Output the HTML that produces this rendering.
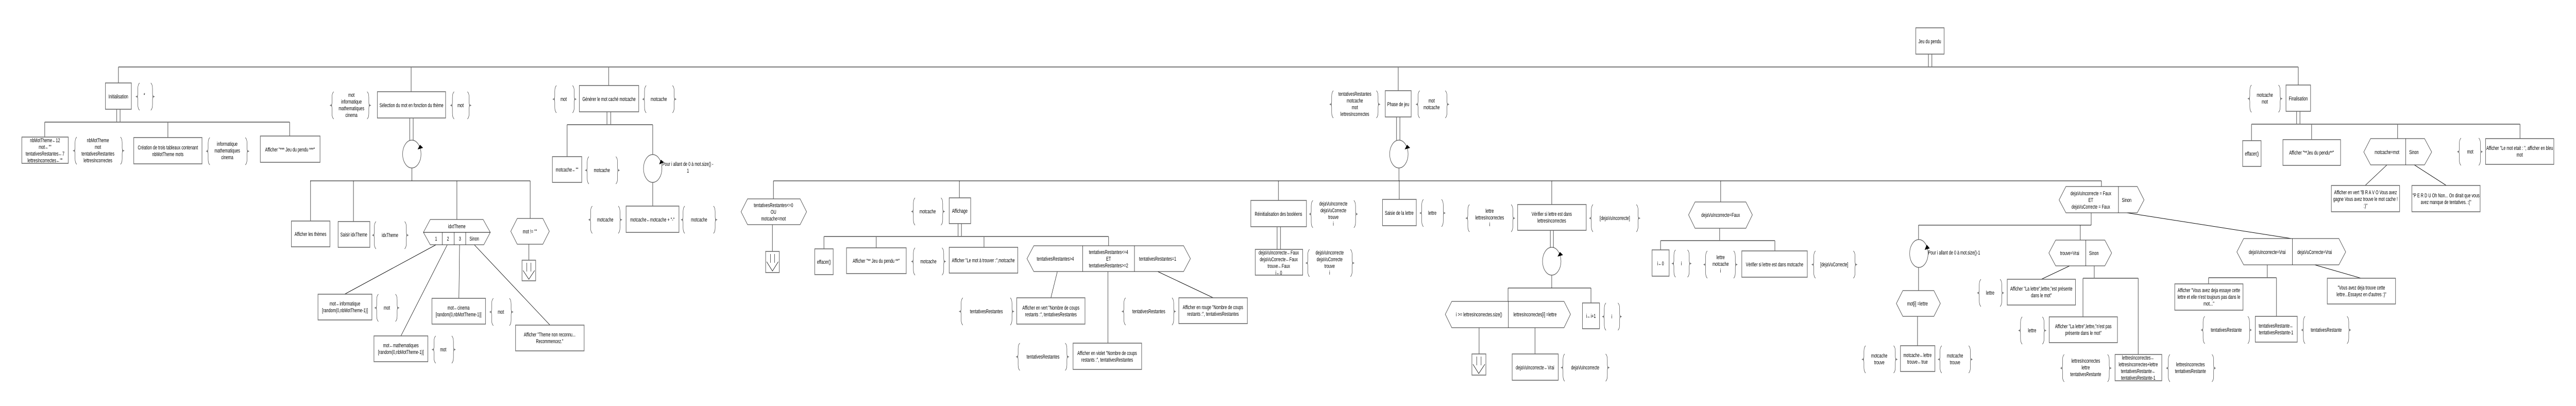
<!DOCTYPE html>
<html><head><meta charset="utf-8"><style>
html,body{margin:0;padding:0;background:#fff;width:100%;height:100%;overflow:hidden;}
svg{display:block;position:fixed;left:0;top:0;width:100vw;height:100vh;}
text{font-family:"Liberation Sans","DejaVu Sans",sans-serif;font-size:11px;fill:#000;text-anchor:middle;}
.b{fill:#fff;stroke:#6a6a6a;stroke-width:1.6;}
.g{stroke:#7a7a7a;stroke-width:2;fill:none;}
.k{stroke:#000;stroke-width:1;fill:none;}
.h{fill:#fff;stroke:#555;stroke-width:1.3;}
</style></head><body>
<svg viewBox="0 0 7550 788" preserveAspectRatio="none" xmlns="http://www.w3.org/2000/svg">
<defs>
<symbol id="lb" overflow="visible"><path d="M9,0 Q4,3 4,11 L4,21 Q4,26 0,26.5 Q4,27 4,32 L4,42 Q4,50 9,53" fill="none" stroke="#333" stroke-width="1"/><path d="M-3,26.5 L4,24 L4,29Z" fill="#777"/></symbol>
<symbol id="rb" overflow="visible"><path d="M0,0 Q5,3 5,11 L5,21 Q5,26 9,26.5 Q5,27 5,32 L5,42 Q5,50 0,53" fill="none" stroke="#333" stroke-width="1"/><path d="M12,26.5 L5,24 L5,29Z" fill="#777"/></symbol>
</defs>

<g class="g">
<line x1="347" y1="130" x2="6736" y2="130"/>
<line x1="5652" y1="105" x2="5652" y2="130"/><line x1="5662" y1="105" x2="5662" y2="130"/>
<line x1="347" y1="130" x2="347" y2="161"/><line x1="1205" y1="130" x2="1205" y2="178"/>
<line x1="1784" y1="130" x2="1784" y2="166"/><line x1="4098" y1="130" x2="4098" y2="176"/>
<line x1="6736" y1="130" x2="6736" y2="165"/>
<line x1="342" y1="212" x2="342" y2="237"/><line x1="352" y1="212" x2="352" y2="237"/>
<line x1="131" y1="237" x2="849" y2="237"/>
<line x1="131" y1="237" x2="131" y2="266"/><line x1="492" y1="237" x2="492" y2="267"/><line x1="849" y1="237" x2="849" y2="264"/>
<line x1="1201" y1="229" x2="1201" y2="272"/><line x1="1211" y1="229" x2="1211" y2="272"/>
<line x1="910" y1="351" x2="910" y2="429"/><line x1="1036" y1="351" x2="1036" y2="430"/>
<line x1="1339" y1="351" x2="1339" y2="426"/><line x1="1554" y1="351" x2="1554" y2="424"/>
<line x1="1550" y1="474" x2="1550" y2="505"/>
<line x1="1779" y1="217" x2="1779" y2="242"/><line x1="1790" y1="217" x2="1790" y2="242"/>
<line x1="1662" y1="242" x2="1913" y2="242"/>
<line x1="1662" y1="242" x2="1662" y2="304"/><line x1="1913" y1="242" x2="1913" y2="300"/>
<line x1="1913" y1="354" x2="1913" y2="400"/>
<line x1="4093" y1="227" x2="4093" y2="272"/><line x1="4103" y1="227" x2="4103" y2="272"/>
<line x1="2267" y1="351" x2="2267" y2="386"/><line x1="2812" y1="351" x2="2812" y2="384"/>
<line x1="3747" y1="351" x2="3747" y2="389"/><line x1="4101" y1="351" x2="4101" y2="387"/>
<line x1="4548" y1="351" x2="4548" y2="397"/><line x1="5043" y1="351" x2="5043" y2="392"/>
<line x1="6159" y1="351" x2="6159" y2="362"/>
<line x1="2264" y1="436" x2="2264" y2="488"/>
<line x1="2808" y1="434" x2="2808" y2="459"/><line x1="2818" y1="434" x2="2818" y2="459"/>
<line x1="2415" y1="459" x2="3249" y2="459"/>
<line x1="2415" y1="459" x2="2415" y2="483"/><line x1="2568" y1="459" x2="2568" y2="481"/>
<line x1="2884" y1="459" x2="2884" y2="480"/><line x1="3249" y1="459" x2="3249" y2="477"/>
<line x1="3743" y1="440" x2="3743" y2="484"/><line x1="3753" y1="440" x2="3753" y2="484"/>
<line x1="4544" y1="447" x2="4544" y2="480"/><line x1="4553" y1="447" x2="4553" y2="480"/>
<line x1="4420" y1="559" x2="4420" y2="585"/><line x1="4663" y1="559" x2="4663" y2="588"/>
<line x1="4335" y1="636" x2="4335" y2="687"/><line x1="4499" y1="636" x2="4499" y2="687"/>
<line x1="5040" y1="443" x2="5040" y2="467"/>
<line x1="4867" y1="467" x2="5202" y2="467"/>
<line x1="4867" y1="467" x2="4867" y2="485"/><line x1="5202" y1="467" x2="5202" y2="487"/>
<line x1="5623" y1="437" x2="5623" y2="465"/><line x1="6097" y1="437" x2="6097" y2="466"/>
<line x1="5623" y1="519" x2="5623" y2="564"/><line x1="5620" y1="614" x2="5620" y2="671"/>
<line x1="6138" y1="516" x2="6138" y2="540"/>
<line x1="6105" y1="540" x2="6267" y2="540"/>
<line x1="6105" y1="540" x2="6105" y2="615"/><line x1="6267" y1="540" x2="6267" y2="688"/>
<line x1="6645" y1="514" x2="6645" y2="539"/>
<line x1="6473" y1="539" x2="6672" y2="539"/>
<line x1="6473" y1="539" x2="6473" y2="551"/><line x1="6672" y1="539" x2="6672" y2="614"/>
<line x1="6731" y1="216" x2="6731" y2="241"/><line x1="6741" y1="216" x2="6741" y2="241"/>
<line x1="6599" y1="241" x2="7386" y2="241"/>
<line x1="6599" y1="241" x2="6599" y2="273"/><line x1="6775" y1="241" x2="6775" y2="271"/>
<line x1="7027" y1="241" x2="7027" y2="269"/><line x1="7386" y1="241" x2="7386" y2="269"/>
<line x1="6129" y1="413" x2="6129" y2="437"/>
</g>
<g class="k">
<line x1="1207" y1="326" x2="1207" y2="351"/>
<line x1="909" y1="351" x2="1554" y2="351"/>
<line x1="1278" y1="475" x2="1010" y2="571"/>
<line x1="1311" y1="475" x2="1175" y2="652"/>
<line x1="1347" y1="475" x2="1345" y2="579"/>
<line x1="1390" y1="475" x2="1612" y2="631"/>
<line x1="4100" y1="326" x2="4100" y2="351"/>
<line x1="2267" y1="351" x2="6159" y2="351"/>
<line x1="3099" y1="527" x2="3080" y2="578"/>
<line x1="3247" y1="527" x2="3247" y2="666"/>
<line x1="3393" y1="527" x2="3556" y2="578"/>
<line x1="4548" y1="534" x2="4548" y2="559"/>
<line x1="4420" y1="559" x2="4663" y2="559"/>
<line x1="5623" y1="437" x2="6129" y2="437"/>
<line x1="6066" y1="516" x2="5983" y2="542"/>
<line x1="6233" y1="413" x2="6716" y2="463"/>
<line x1="6784" y1="514" x2="6920" y2="540"/>
<line x1="6996" y1="320" x2="6932" y2="360"/>
<line x1="7076" y1="320" x2="7170" y2="360"/>
</g>

<g>
<circle cx="1207" cy="299" r="27" class="h"/><path d="M1224,290 L1231,281 L1240,287Z" fill="#000"/>
<circle cx="1913" cy="327" r="27" class="h"/><path d="M1932,319 L1937,310 L1946,315Z" fill="#000"/>
<circle cx="4100" cy="299" r="27" class="h"/><path d="M4117,290 L4124,281 L4133,287Z" fill="#000"/>
<circle cx="4548" cy="507" r="27" class="h"/><path d="M4565,498 L4572,489 L4581,495Z" fill="#000"/>
<circle cx="5624" cy="492" r="27" class="h"/><path d="M5641,485 L5647,475 L5656,482Z" fill="#000"/>
</g>
<text x="2016" y="322">Pour i allant de 0 à mot.size() -</text>
<text x="2016" y="335">1</text>
<text x="5651" y="494" style="text-anchor:start">Pour i allant de 0 à mot.size()-1</text>

<g>
<rect class="b" x="5615" y="54" width="83" height="51"/><text x="5656" y="84">Jeu du pendu</text>
<rect class="b" x="309" y="161" width="76" height="51"/><text x="347" y="191">Initialisation</text>
<rect class="b" x="64" y="266" width="136" height="51"/>
<text x="132" y="276">nbMotTheme←12</text><text x="132" y="289">mot←""</text><text x="132" y="302">tentativesRestantes←7</text><text x="132" y="315">lettresIncorrectes←""</text>
<rect class="b" x="392" y="267" width="200" height="51"/><text x="492" y="290">Création de trois tableaux contenant</text><text x="492" y="303">nbMotTheme mots</text>
<rect class="b" x="763" y="264" width="175" height="51"/><text x="850" y="294">Afficher "*** Jeu du pendu ***"</text>
<rect class="b" x="1106" y="178" width="200" height="51"/><text x="1206" y="208">Sélection du mot en fonction du thème</text>
<rect class="b" x="854" y="429" width="113" height="50"/><text x="910" y="458">Afficher les thèmes</text>
<rect class="b" x="991" y="430" width="93" height="50"/><text x="1037" y="459">Saisir idxTheme</text>
<rect class="b" x="932" y="571" width="158" height="50"/><text x="1011" y="593">mot←informatique</text><text x="1011" y="606">[random(0,nbMotTheme-1)]</text>
<rect class="b" x="1096" y="652" width="158" height="50"/><text x="1175" y="674">mot←mathematiques</text><text x="1175" y="687">[random(0,nbMotTheme-1)]</text>
<rect class="b" x="1266" y="579" width="157" height="50"/><text x="1344" y="601">mot←cinema</text><text x="1344" y="614">[random(0,nbMotTheme-1)]</text>
<rect class="b" x="1511" y="631" width="201" height="50"/><text x="1611" y="653">Afficher "Theme non reconnu...</text><text x="1611" y="666">Recommencez."</text>
<rect class="b" x="1698" y="166" width="174" height="51"/><text x="1785" y="196">Générer le mot caché motcache</text>
<rect class="b" x="1619" y="304" width="86" height="50"/><text x="1662" y="333">motcache←""</text>
<rect class="b" x="1835" y="400" width="155" height="51"/><text x="1912" y="430">motcache←motcache + "-"</text>
<rect class="b" x="2782" y="384" width="63" height="50"/><text x="2813" y="413">Affichage</text>
<rect class="b" x="2388" y="483" width="54" height="50"/><text x="2415" y="512">effacer()</text>
<rect class="b" x="2481" y="481" width="175" height="50"/><text x="2568" y="510">Afficher "** Jeu du pendu **"</text>
<rect class="b" x="2782" y="480" width="201" height="50"/><text x="2882" y="509">Afficher "Le mot à trouver :",motcache</text>
<rect class="b" x="2980" y="578" width="200" height="51"/><text x="3080" y="601">Afficher en vert "Nombre de coups</text><text x="3080" y="614">restants :", tentativesRestantes</text>
<rect class="b" x="3145" y="666" width="201" height="51"/><text x="3245" y="689">Afficher en violet "Nombre de coups</text><text x="3245" y="702">restants :", tentativesRestantes</text>
<rect class="b" x="3455" y="578" width="201" height="50"/><text x="3555" y="600">Afficher en rouge "Nombre de coups</text><text x="3555" y="613">restants :", tentativesRestantes</text>
<rect class="b" x="3666" y="389" width="163" height="51"/><text x="3747" y="419">Réinitialisation des booléens</text>
<rect class="b" x="3679" y="484" width="139" height="50"/>
<text x="3748" y="494">dejaVuIncorrecte←Faux</text><text x="3748" y="507">dejaVuCorrecte←Faux</text><text x="3748" y="520">trouve←Faux</text><text x="3748" y="533">i←0</text>
<rect class="b" x="4060" y="176" width="76" height="51"/><text x="4098" y="206">Phase de jeu</text>
<rect class="b" x="4052" y="387" width="99" height="51"/><text x="4101" y="417">Saisie de la lettre</text>
<rect class="b" x="4448" y="397" width="201" height="50"/><text x="4548" y="419">Vérifier si lettre est dans</text><text x="4548" y="432">lettresIncorrectes</text>
<rect class="b" x="4432" y="687" width="135" height="51"/><text x="4499" y="717">dejaVuIncorrecte←Vrai</text>
<rect class="b" x="4638" y="588" width="50" height="50"/><text x="4663" y="617">i←i+1</text>
<rect class="b" x="4842" y="485" width="50" height="51"/><text x="4867" y="515">i←0</text>
<rect class="b" x="5105" y="487" width="192" height="51"/><text x="5201" y="517">Vérifier si lettre est dans motcache</text>
<rect class="b" x="5570" y="671" width="101" height="50"/><text x="5620" y="693">motcache←lettre</text><text x="5620" y="706">trouve←true</text>
<rect class="b" x="5883" y="542" width="200" height="50"/><text x="5983" y="564">Afficher "La lettre",lettre,"est présente</text><text x="5983" y="577">dans le mot"</text>
<rect class="b" x="6006" y="615" width="200" height="50"/><text x="6106" y="637">Afficher "La lettre",lettre,"n'est pas</text><text x="6106" y="650">présente dans le mot"</text>
<rect class="b" x="6199" y="688" width="137" height="51"/>
<text x="6267" y="698">lettresIncorrectes←</text><text x="6267" y="711">lettresIncorrectes+lettre</text><text x="6267" y="724">tentativesRestante←</text><text x="6267" y="737">tentativesRestante-1</text>
<rect class="b" x="6374" y="551" width="200" height="51"/><text x="6474" y="567">Afficher "Vous avez deja essaye cette</text><text x="6474" y="580">lettre et elle n'est toujours pas dans le</text><text x="6474" y="593">mot..."</text>
<rect class="b" x="6610" y="614" width="123" height="50"/><text x="6671" y="636">tentativesRestante←</text><text x="6671" y="649">tentativesRestante-1</text>
<rect class="b" x="6821" y="540" width="200" height="50"/><text x="6921" y="562">"Vous avez deja trouve cette</text><text x="6921" y="575">lettre...Essayez en d'autres :)"</text>
<rect class="b" x="6700" y="165" width="72" height="51"/><text x="6736" y="195">Finalisation</text>
<rect class="b" x="6573" y="273" width="54" height="50"/><text x="6600" y="302">effacer()</text>
<rect class="b" x="6691" y="271" width="169" height="50"/><text x="6775" y="300">Afficher "**Jeu du pendu**"</text>
<rect class="b" x="6833" y="360" width="200" height="51"/><text x="6933" y="377">Afficher en vert "B R A V O Vous avez</text><text x="6933" y="390">gagne Vous avez trouve le mot cache !</text><text x="6933" y="403">:)"</text>
<rect class="b" x="7069" y="360" width="200" height="51"/><text x="7169" y="383">"P E R D U Oh Non... On dirait que vous</text><text x="7169" y="396">avez manque de tentatives. :("</text>
<rect class="b" x="7285" y="269" width="200" height="50"/><text x="7385" y="291">Afficher "Le mot etait : ", afficher en bleu</text><text x="7385" y="304">mot</text>
</g>

<g>
<rect class="b" x="1530" y="505" width="40" height="40"/><path class="k" d="M1544,510 V527 M1556,510 V527 M1533,525 L1550,542 L1567,525"/>
<rect class="b" x="2244" y="488" width="40" height="41"/><path class="k" d="M2258,493 V510 M2270,493 V510 M2247,508 L2264,526 L2281,508"/>
<rect class="b" x="4314" y="687" width="41" height="41"/><path class="k" d="M4328,692 V709 M4341,692 V709 M4317,707 L4334,725 L4352,707"/>
</g>

<g>
<polygon class="h" points="1241,451 1261,426 1416,426 1437,451 1418,475 1261,475"/>
<path class="k" d="M1241,451 H1437 M1296,451 V475 M1331,451 V475 M1365,451 V475"/>
<text x="1339" y="443">idxtTheme</text><text x="1278" y="467">1</text><text x="1313" y="467">2</text><text x="1348" y="467">3</text><text x="1390" y="467">Sinon</text>
<polygon class="h" points="1497,449 1516,424 1591,424 1610,449 1591,474 1516,474"/><text x="1553" y="453">mot != ""</text>
<polygon class="h" points="2172,411 2191,386 2345,386 2364,411 2345,436 2191,436"/>
<text x="2267" y="402">tentativesRestantes&lt;=0</text><text x="2267" y="415">OU</text><text x="2267" y="428">motcache=mot</text>
<polygon class="h" points="3010,502 3030,477 3469,477 3489,502 3469,527 3030,527"/>
<path class="k" d="M3173,477 V527 M3325,477 V527"/>
<text x="3093" y="506">tentativesRestantes&gt;4</text>
<text x="3249" y="493">tentativesRestantes&lt;=4</text><text x="3249" y="506">ET</text><text x="3249" y="519">tentativesRestantes&gt;=2</text>
<text x="3393" y="506">tentativesRestantes=1</text>
<polygon class="h" points="4236,610 4255,585 4584,585 4603,610 4584,636 4255,636"/>
<path class="k" d="M4421,585 V636"/>
<text x="4335" y="614">i &gt;= lettresIncorrectes.size()</text><text x="4499" y="614">lettresIncorrectes[i] =lettre</text>
<polygon class="h" points="4949,417 4968,392 5117,392 5136,417 5117,443 4968,443"/><text x="5043" y="421">dejaVuIncorrecte=Faux</text>
<polygon class="h" points="5558,589 5577,564 5668,564 5687,589 5668,614 5577,614"/><text x="5620" y="593">mot[i] =lettre</text>
<polygon class="h" points="6005,491 6025,466 6169,466 6189,491 6169,516 6025,516"/>
<path class="k" d="M6113,466 V516"/><text x="6066" y="495">trouve=Vrai</text><text x="6137" y="495">Sinon</text>
<polygon class="h" points="6035,388 6055,362 6264,362 6284,388 6264,413 6055,413"/>
<path class="k" d="M6209,362 V413"/>
<text x="6128" y="379">dejaVuIncorrecte = Faux</text><text x="6128" y="392">ET</text><text x="6128" y="405">dejaVuCorrecte = Faux</text><text x="6233" y="392">Sinon</text>
<polygon class="h" points="6556,489 6576,463 6855,463 6875,489 6855,514 6576,514"/>
<path class="k" d="M6719,463 V514"/><text x="6645" y="493">dejaVuIncorrecte=Vrai</text><text x="6784" y="493">dejaVuCorrecte=Vrai</text>
<polygon class="h" points="6928,295 6948,269 7106,269 7127,295 7106,320 6948,320"/>
<path class="k" d="M7051,269 V320"/><text x="6996" y="299">motcache=mot</text><text x="7075" y="299">Sinon</text>
</g>

<g>
<use href="#lb" x="400" y="161"/><use href="#rb" x="442" y="161"/><text x="423" y="188">*</text>
<use href="#lb" x="216" y="266"/><use href="#rb" x="353" y="266"/>
<text x="287" y="276">nbMotTheme</text><text x="287" y="289">mot</text><text x="287" y="302">tentativesRestantes</text><text x="287" y="315">lettresIncorrectes</text>
<use href="#lb" x="606" y="267"/><use href="#rb" x="719" y="267"/>
<text x="666" y="283">informatique</text><text x="666" y="296">mathematiques</text><text x="666" y="309">cinema</text>
<use href="#lb" x="969" y="178"/><use href="#rb" x="1076" y="178"/>
<text x="1030" y="188">mot</text><text x="1030" y="201">informatique</text><text x="1030" y="214">mathematiques</text><text x="1030" y="227">cinema</text>
<use href="#lb" x="1322" y="178"/><use href="#rb" x="1370" y="178"/><text x="1350" y="208">mot</text>
<use href="#lb" x="1093" y="430"/><use href="#rb" x="1186" y="430"/><text x="1143" y="460">idxTheme</text>
<use href="#lb" x="1100" y="571"/><use href="#rb" x="1159" y="571"/><text x="1134" y="601">mot</text>
<use href="#lb" x="1268" y="652"/><use href="#rb" x="1324" y="652"/><text x="1299" y="682">mot</text>
<use href="#lb" x="1437" y="579"/><use href="#rb" x="1493" y="579"/><text x="1468" y="609">mot</text>
<use href="#lb" x="1622" y="166"/><use href="#rb" x="1678" y="166"/><text x="1652" y="196">mot</text>
<use href="#lb" x="1885" y="166"/><use href="#rb" x="1971" y="166"/><text x="1931" y="196">motcache</text>
<use href="#lb" x="1717" y="304"/><use href="#rb" x="1805" y="304"/><text x="1764" y="334">motcache</text>
<use href="#lb" x="1727" y="400"/><use href="#rb" x="1812" y="400"/><text x="1774" y="430">motcache</text>
<use href="#lb" x="1998" y="400"/><use href="#rb" x="2091" y="400"/><text x="2049" y="430">motcache</text>
<use href="#lb" x="2673" y="384"/><use href="#rb" x="2758" y="384"/><text x="2719" y="414">motcache</text>
<use href="#lb" x="2673" y="481"/><use href="#rb" x="2761" y="481"/><text x="2721" y="511">motcache</text>
<use href="#lb" x="2813" y="578"/><use href="#rb" x="2961" y="578"/><text x="2891" y="608">tentativesRestantes</text>
<use href="#lb" x="2980" y="666"/><use href="#rb" x="3122" y="666"/><text x="3057" y="696">tentativesRestantes</text>
<use href="#lb" x="3290" y="578"/><use href="#rb" x="3435" y="578"/><text x="3367" y="608">tentativesRestantes</text>
<use href="#lb" x="3839" y="389"/><use href="#rb" x="3968" y="389"/>
<text x="3908" y="399">dejaVuIncorrecte</text><text x="3908" y="412">dejaVuCorrecte</text><text x="3908" y="425">trouve</text><text x="3908" y="438">i</text>
<use href="#lb" x="3829" y="484"/><use href="#rb" x="3958" y="484"/>
<text x="3897" y="494">dejaVuIncorrecte</text><text x="3897" y="507">dejaVuCorrecte</text><text x="3897" y="520">trouve</text><text x="3897" y="533">i</text>
<use href="#lb" x="3899" y="176"/><use href="#rb" x="4034" y="176"/>
<text x="3971" y="186">tentativesRestantes</text><text x="3971" y="199">motcache</text><text x="3971" y="212">mot</text><text x="3971" y="225">lettresIncorrectes</text>
<use href="#lb" x="4152" y="176"/><use href="#rb" x="4236" y="176"/><text x="4196" y="199">mot</text><text x="4196" y="212">motcache</text>
<use href="#lb" x="4163" y="387"/><use href="#rb" x="4225" y="387"/><text x="4198" y="417">lettre</text>
<use href="#lb" x="4298" y="397"/><use href="#rb" x="4429" y="397"/>
<text x="4366" y="413">lettre</text><text x="4366" y="426">lettresIncorrectes</text><text x="4366" y="439">i</text>
<use href="#lb" x="4660" y="397"/><use href="#rb" x="4796" y="397"/><text x="4733" y="427">[dejaVuIncorrecte]</text>
<use href="#lb" x="4577" y="687"/><use href="#rb" x="4706" y="687"/><text x="4646" y="717">dejaVuIncorrecte</text>
<use href="#lb" x="4698" y="588"/><use href="#rb" x="4742" y="588"/><text x="4724" y="618">i</text>
<use href="#lb" x="4902" y="485"/><use href="#rb" x="4946" y="485"/><text x="4928" y="515">i</text>
<use href="#lb" x="4995" y="487"/><use href="#rb" x="5081" y="487"/>
<text x="5043" y="503">lettre</text><text x="5043" y="516">motcache</text><text x="5043" y="529">i</text>
<use href="#lb" x="5312" y="487"/><use href="#rb" x="5432" y="487"/><text x="5376" y="517">[dejaVuCorrecte]</text>
<use href="#lb" x="5459" y="671"/><use href="#rb" x="5550" y="671"/><text x="5508" y="694">motcache</text><text x="5508" y="707">trouve</text>
<use href="#lb" x="5682" y="671"/><use href="#rb" x="5770" y="671"/><text x="5730" y="694">motcache</text><text x="5730" y="707">trouve</text>
<use href="#lb" x="5797" y="542"/><use href="#rb" x="5862" y="542"/><text x="5833" y="572">lettre</text>
<use href="#lb" x="5918" y="615"/><use href="#rb" x="5986" y="615"/><text x="5956" y="645">lettre</text>
<use href="#lb" x="6041" y="688"/><use href="#rb" x="6177" y="688"/>
<text x="6113" y="704">lettresIncorrectes</text><text x="6113" y="717">lettre</text><text x="6113" y="730">tentativesRestante</text>
<use href="#lb" x="6351" y="688"/><use href="#rb" x="6483" y="688"/><text x="6420" y="711">lettresIncorrectes</text><text x="6420" y="724">tentativesRestante</text>
<use href="#lb" x="6453" y="614"/><use href="#rb" x="6588" y="614"/><text x="6525" y="644">tentativesRestante</text>
<use href="#lb" x="6747" y="614"/><use href="#rb" x="6879" y="614"/><text x="6818" y="644">tentativesRestante</text>
<use href="#lb" x="6590" y="165"/><use href="#rb" x="6678" y="165"/><text x="6638" y="188">motcache</text><text x="6638" y="201">mot</text>
<use href="#lb" x="7204" y="268"/><use href="#rb" x="7265" y="268"/><text x="7240" y="298">mot</text>
</g>
</svg>
</body></html>
